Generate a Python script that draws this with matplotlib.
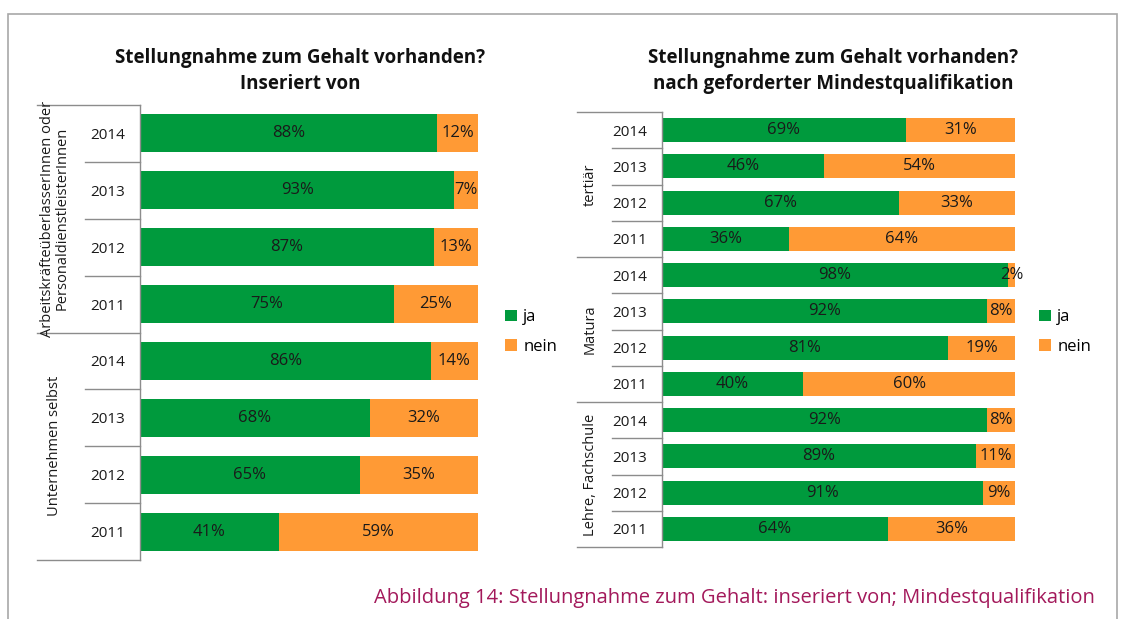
import matplotlib
matplotlib.use("Agg")
import matplotlib.pyplot as plt
import matplotlib.transforms as mtransforms
from matplotlib.patches import Rectangle
from matplotlib.lines import Line2D

plt.rcParams['font.family'] = ['Open Sans', 'DejaVu Sans']

# ---- data ----
years = ["2014", "2013", "2012", "2011"]
left_groups = ["ArbeitskräfteüberlasserInnen oder\nPersonaldienstleisterInnen", "Unternehmen selbst"]
left_ja = [88, 93, 87, 75, 86, 68, 65, 41]
left_nein = [12, 7, 13, 25, 14, 32, 35, 59]

right_groups = ["tertiär", "Matura", "Lehre, Fachschule"]
right_ja = [69, 46, 67, 36, 98, 92, 81, 40, 92, 89, 91, 64]
right_nein = [31, 54, 33, 64, 2, 8, 19, 60, 8, 11, 9, 36]

series_names = ["ja", "nein"]
title_left = "Stellungnahme zum Gehalt vorhanden?\nInseriert von"
title_right = "Stellungnahme zum Gehalt vorhanden?\nnach geforderter Mindestqualifikation"
caption = "Abbildung 14: Stellungnahme zum Gehalt: inseriert von; Mindestqualifikation"

GREEN = "#009A3D"
ORANGE = "#FF9A35"
LINE = "#8C8C8C"
W, H = 1123, 619

fig = plt.figure(figsize=(W / 100, H / 100), dpi=100)

# outer frame
fig.patches.append(Rectangle((8 / W, -0.05), (1117 - 8) / W, 1 - 14 / H + 0.05,
                             transform=fig.transFigure, fill=False,
                             edgecolor="#A8A8A8", lw=1.2))


def px_axes(x0, x1, y0, y1):
    return fig.add_axes([x0 / W, 1 - y1 / H, (x1 - x0) / W, (y1 - y0) / H])


def draw_panel(ax, ja, nein, groups, bar_h, year_x, group_x, group_label_x, fs_pct, ax_px_w):
    n = len(ja)
    pos = list(range(n))
    ax.barh(pos, ja, height=bar_h, color=GREEN, label=series_names[0])
    ax.barh(pos, nein, left=ja, height=bar_h, color=ORANGE, label=series_names[1])
    for i in range(n):
        ax.text(ja[i] / 2, i, f"{ja[i]}%", ha="center", va="center", fontsize=fs_pct, color="#1a1a1a")
        ax.text(ja[i] + nein[i] / 2, i, f"{nein[i]}%", ha="center", va="center", fontsize=fs_pct, color="#1a1a1a")
    ax.set_xlim(0, 100)
    ax.set_ylim(n - 0.5, -0.5)
    ax.set_yticks(pos)
    ax.set_yticklabels(years * len(groups), fontsize=11, color="#1a1a1a")
    ax.tick_params(axis="y", length=0, pad=10.5)
    ax.set_xticks([])
    for s in ["top", "right", "bottom"]:
        ax.spines[s].set_visible(False)
    ax.spines["left"].set_color(LINE)
    ax.spines["left"].set_linewidth(1)
    trans = mtransforms.blended_transform_factory(ax.transAxes, ax.transData)
    # separators
    for k in range(n + 1):
        y = k - 0.5
        xstart = group_x if k % 4 == 0 else year_x
        ax.add_line(Line2D([xstart / ax_px_w, 0], [y, y], transform=trans,
                           color=LINE, lw=1, clip_on=False))
    for g, name in enumerate(groups):
        yc = g * 4 + 1.5
        ax.text(group_label_x / ax_px_w, yc, name, transform=trans, rotation=90,
                ha="center", va="center", fontsize=10.5, color="#1a1a1a",
                multialignment="center", linespacing=1.0)


# left panel
axL = px_axes(140, 478, 105, 560)
draw_panel(axL, left_ja, left_nein, left_groups, 0.67, 85 - 140, 37 - 140, 55 - 140, 12, 338)
# right panel
axR = px_axes(662, 1015, 112, 547)
draw_panel(axR, right_ja, right_nein, right_groups, 0.66, 612 - 662, 577 - 662, 590 - 662, 12, 353)

fig.text(300 / W, 1 - 71 / H, title_left, ha="center", va="center", fontsize=13.5,
         fontweight="bold", linespacing=1.45, color="#111111")
fig.text(833 / W, 1 - 71 / H, title_right, ha="center", va="center", fontsize=13.5,
         fontweight="bold", linespacing=1.45, color="#111111")

for ax, lx in [(axL, 490), (axR, 1024)]:
    h, l = ax.get_legend_handles_labels()
    fig.legend(h, l, loc="center left", bbox_to_anchor=(lx / W, 1 - 332 / H),
               frameon=False, fontsize=12, handlelength=0.7, handleheight=0.7,
               handletextpad=0.4, labelspacing=0.8)

fig.text(1095 / W, 1 - 598 / H, caption, ha="right", va="center", fontsize=14.5, color="#A3195B")

fig.savefig("out.png", dpi=100)
